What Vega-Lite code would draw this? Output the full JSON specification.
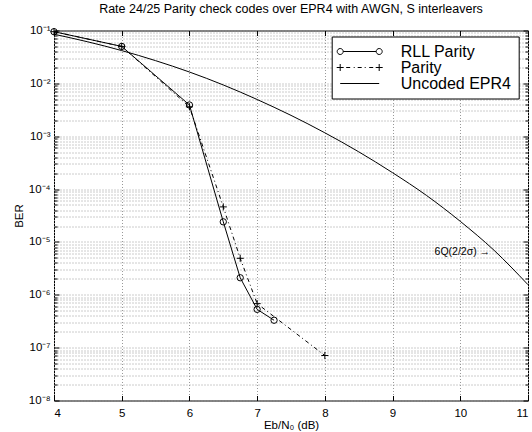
{
  "$schema": "https://vega.github.io/schema/vega-lite/v6.json",
  "width": 474,
  "height": 370,
  "autosize": {"type": "none"},
  "padding": {"left": 54, "top": 30.5, "right": 4, "bottom": 31.5},
  "background": "white",
  "config": {
    "view": {"stroke": "black", "strokeWidth": 1},
    "font": "Liberation Sans",
    "axis": {"labelFont": "Liberation Sans", "titleFont": "Liberation Sans", "labelColor": "black", "titleColor": "black", "tickColor": "black", "domain": false}
  },
  "title": {"text": "Rate 24/25 Parity check codes over EPR4 with AWGN, S interleavers", "font": "Liberation Sans", "fontSize": 12.5, "fontWeight": "normal", "color": "black", "offset": 9},
  "datasets": {
    "curves": [
      {"series": "RLL Parity", "x": 4, "ber": 0.095},
      {"series": "RLL Parity", "x": 5, "ber": 0.05},
      {"series": "RLL Parity", "x": 6, "ber": 0.0039},
      {"series": "RLL Parity", "x": 6.5, "ber": 2.4e-5},
      {"series": "RLL Parity", "x": 6.75, "ber": 2.1e-6},
      {"series": "RLL Parity", "x": 7, "ber": 5.3e-7},
      {"series": "RLL Parity", "x": 7.25, "ber": 3.3e-7},
      {"series": "Parity", "x": 4, "ber": 0.095},
      {"series": "Parity", "x": 5, "ber": 0.05},
      {"series": "Parity", "x": 6, "ber": 0.0036},
      {"series": "Parity", "x": 6.5, "ber": 4.6e-5},
      {"series": "Parity", "x": 6.75, "ber": 4.9e-6},
      {"series": "Parity", "x": 7, "ber": 6.8e-7},
      {"series": "Parity", "x": 8, "ber": 7.1e-8},
      {"series": "Uncoded EPR4", "x": 4, "ber": 0.0851},
      {"series": "Uncoded EPR4", "x": 4.5, "ber": 0.061},
      {"series": "Uncoded EPR4", "x": 5, "ber": 0.0417},
      {"series": "Uncoded EPR4", "x": 5.5, "ber": 0.0269},
      {"series": "Uncoded EPR4", "x": 6, "ber": 0.0164},
      {"series": "Uncoded EPR4", "x": 6.5, "ber": 0.00933},
      {"series": "Uncoded EPR4", "x": 7, "ber": 0.00495},
      {"series": "Uncoded EPR4", "x": 7.5, "ber": 0.00248},
      {"series": "Uncoded EPR4", "x": 8, "ber": 0.00116},
      {"series": "Uncoded EPR4", "x": 8.5, "ber": 0.000507},
      {"series": "Uncoded EPR4", "x": 9, "ber": 0.000204},
      {"series": "Uncoded EPR4", "x": 9.5, "ber": 7.59e-5},
      {"series": "Uncoded EPR4", "x": 10, "ber": 2.45e-5},
      {"series": "Uncoded EPR4", "x": 10.5, "ber": 6.92e-6},
      {"series": "Uncoded EPR4", "x": 11, "ber": 1.55e-6}
    ],
    "notes": [{"x": 10.44, "ber": 6.4e-6, "label": "6Q(2/2σ) →"}]
  },
  "data": {"name": "curves"},
  "layer": [
    {
      "transform": [{"filter": "datum.series === 'Uncoded EPR4'"}],
      "mark": {"type": "line", "color": "black", "strokeWidth": 1, "interpolate": "monotone"},
      "encoding": {
        "x": {"field": "x", "type": "quantitative", "scale": {"domain": [4, 11], "nice": false, "zero": false},
          "axis": {"orient": "bottom", "values": [4, 5, 6, 7, 8, 9, 10, 11], "format": "d", "grid": true, "gridColor": "#999", "gridDash": [1, 2], "tickSize": -5, "labelFontSize": 11.5, "labelPadding": 12, "title": "Eb/N₀ (dB)", "titleFontSize": 11.5, "titleFontWeight": "normal", "titlePadding": 0}},
        "y": {"field": "ber", "type": "quantitative", "scale": {"type": "log", "domain": [1e-8, 0.1], "nice": false},
          "axis": {"orient": "left",
            "values": [1e-8, 2e-8, 3e-8, 4e-8, 5e-8, 6e-8, 7e-8, 8e-8, 9e-8, 1e-7, 2e-7, 3e-7, 4e-7, 5e-7, 6e-7, 7e-7, 8e-7, 9e-7, 1e-6, 2e-6, 3e-6, 4e-6, 5e-6, 6e-6, 7e-6, 8e-6, 9e-6, 1e-5, 2e-5, 3e-5, 4e-5, 5e-5, 6e-5, 7e-5, 8e-5, 9e-5, 1e-4, 2e-4, 3e-4, 4e-4, 5e-4, 6e-4, 7e-4, 8e-4, 9e-4, 0.001, 0.002, 0.003, 0.004, 0.005, 0.006, 0.007, 0.008, 0.009, 0.01, 0.02, 0.03, 0.04, 0.05, 0.06, 0.07, 0.08, 0.09, 0.1],
            "labelExpr": "abs(log(datum.value)/LN10 - round(log(datum.value)/LN10)) < 0.001 ? '10' + ['⁰','⁻¹','⁻²','⁻³','⁻⁴','⁻⁵','⁻⁶','⁻⁷','⁻⁸'][-round(log(datum.value)/LN10)] : ''",
            "grid": true, "gridColor": "#999", "gridDash": [1, 2],
            "tickSize": {"condition": {"test": "abs(log(datum.value)/LN10 - round(log(datum.value)/LN10)) < 0.001", "value": -5}, "value": -3},
            "labelFontSize": 11.5, "labelPadding": 9, "labelOverlap": false, "labelFlush": false, "labelBound": false,
            "title": "BER", "titleFontSize": 11.5, "titleFontWeight": "normal", "titlePadding": 4}}
      }
    },
    {
      "transform": [{"filter": "datum.series === 'RLL Parity'"}],
      "mark": {"type": "line", "color": "black", "strokeWidth": 1},
      "encoding": {
        "x": {"field": "x", "type": "quantitative", "scale": {"domain": [4, 11], "nice": false, "zero": false}, "axis": null},
        "y": {"field": "ber", "type": "quantitative", "scale": {"type": "log", "domain": [1e-8, 0.1], "nice": false}, "axis": null}
      }
    },
    {
      "transform": [{"filter": "datum.series === 'Parity'"}],
      "mark": {"type": "line", "color": "black", "strokeWidth": 1, "strokeDash": [4, 3, 1, 3]},
      "encoding": {
        "x": {"field": "x", "type": "quantitative", "axis": null},
        "y": {"field": "ber", "type": "quantitative", "axis": null}
      }
    },
    {
      "transform": [{"filter": "datum.series === 'RLL Parity'"}],
      "mark": {"type": "point", "shape": "circle", "filled": false, "color": "black", "strokeWidth": 1, "size": 40, "opacity": 1},
      "encoding": {
        "x": {"field": "x", "type": "quantitative", "axis": null},
        "y": {"field": "ber", "type": "quantitative", "axis": null}
      }
    },
    {
      "transform": [{"filter": "datum.series === 'Parity'"}],
      "mark": {"type": "point", "shape": "M-1,0L1,0M0,-1L0,1", "filled": false, "color": "black", "strokeWidth": 1, "size": 50, "opacity": 1},
      "encoding": {
        "x": {"field": "x", "type": "quantitative", "axis": null},
        "y": {"field": "ber", "type": "quantitative", "axis": null}
      }
    },
    {
      "data": {"name": "notes"},
      "mark": {"type": "text", "align": "right", "baseline": "middle", "fontSize": 10.5, "font": "Liberation Sans", "color": "black"},
      "encoding": {
        "x": {"field": "x", "type": "quantitative", "axis": null},
        "y": {"field": "ber", "type": "quantitative", "axis": null},
        "text": {"field": "label"}
      }
    },
    {
      "mark": {"type": "point", "filled": false, "color": "black", "opacity": 0},
      "encoding": {
        "x": {"field": "x", "type": "quantitative",
          "axis": {"orient": "top", "values": [4, 5, 6, 7, 8, 9, 10, 11], "labels": false, "grid": false, "tickSize": -5, "title": null}},
        "y": {"field": "ber", "type": "quantitative",
          "axis": {"orient": "right",
            "values": [1e-8, 2e-8, 3e-8, 4e-8, 5e-8, 6e-8, 7e-8, 8e-8, 9e-8, 1e-7, 2e-7, 3e-7, 4e-7, 5e-7, 6e-7, 7e-7, 8e-7, 9e-7, 1e-6, 2e-6, 3e-6, 4e-6, 5e-6, 6e-6, 7e-6, 8e-6, 9e-6, 1e-5, 2e-5, 3e-5, 4e-5, 5e-5, 6e-5, 7e-5, 8e-5, 9e-5, 1e-4, 2e-4, 3e-4, 4e-4, 5e-4, 6e-4, 7e-4, 8e-4, 9e-4, 0.001, 0.002, 0.003, 0.004, 0.005, 0.006, 0.007, 0.008, 0.009, 0.01, 0.02, 0.03, 0.04, 0.05, 0.06, 0.07, 0.08, 0.09, 0.1],
            "labels": false, "grid": false,
            "tickSize": {"condition": {"test": "abs(log(datum.value)/LN10 - round(log(datum.value)/LN10)) < 0.001", "value": -5}, "value": -3},
            "title": null}},
        "shape": {"field": "series", "type": "nominal",
          "scale": {"domain": ["RLL Parity", "Parity", "Uncoded EPR4"],
            "range": [
              "M-3.3,0L3.3,0M-4.5,0A0.6,0.6 0 1,1 -3.3,0A0.6,0.6 0 1,1 -4.5,0M3.3,0A0.6,0.6 0 1,1 4.5,0A0.6,0.6 0 1,1 3.3,0",
              "M-4.6,0L-3.2,0M-3.9,-0.7L-3.9,0.7M3.2,0L4.6,0M3.9,-0.7L3.9,0.7M-2.7,0L-1.9,0M-1.2,0L-1.0,0M-0.4,0L0.4,0M1.0,0L1.2,0M1.9,0L2.7,0",
              "M-3.9,0L3.9,0"
            ]},
          "legend": {"orient": "none", "legendX": 277.7, "legendY": 6, "title": null, "padding": 7,
            "strokeColor": "black", "fillColor": "white",
            "labelFont": "Liberation Sans", "labelFontSize": 16, "labelColor": "black",
            "symbolSize": 100, "symbolStrokeWidth": 1, "symbolStrokeColor": "black", "symbolFillColor": "transparent", "symbolOpacity": 1,
            "symbolOffset": 13, "labelOffset": 33, "rowPadding": 0}}
      }
    }
  ],
  "resolve": {"axis": {"x": "independent", "y": "independent"}}
}
